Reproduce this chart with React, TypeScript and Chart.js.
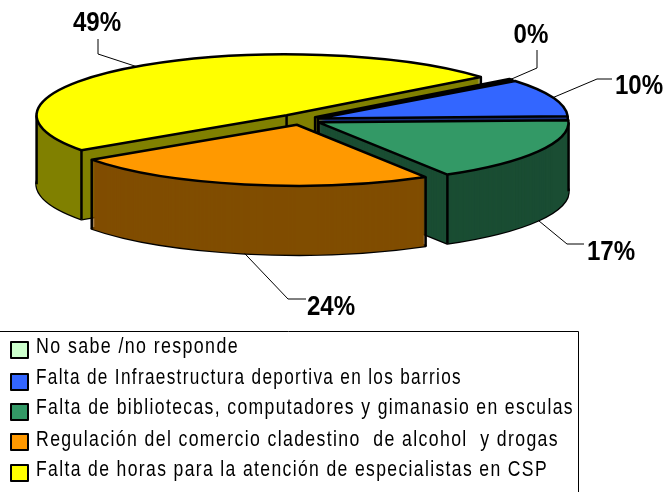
import React, { useEffect, useRef } from "react";
import { Chart, registerables } from "chart.js";

Chart.register(...registerables);

const categories = [
  "No sabe /no responde",
  "Falta de Infraestructura deportiva en los barrios",
  "Falta de bibliotecas, computadores y gimanasio en esculas",
  "Regulación del comercio cladestino  de alcohol  y drogas",
  "Falta de horas para la atención de especialistas en CSP",
];
const values = [0.3, 10, 17, 24, 49];
const topColors = ["#CCFFCC", "#3366FF", "#339966", "#FF9900", "#FFFF00"];
const wallColors = ["#668066", "#1A3380", "#1A4D33", "#804D00", "#808000"];
const explode = [18, 18, 20, 20, 24];

const SQUASH = 0.244;
const DEPTH = 69;
const LABEL_FONT = 'bold 28px "Liberation Sans"';
const LABEL_SCALE = 0.86;
const LEGEND_FONT = '22px "Liberation Sans"';
const LEGEND_SPACING = "1.7px";
const labelLayout = [
  { text: [531, 35], elbow: [[537, 50], [537, 68]], front: false },
  { text: [639, 86], elbow: [[612, 79], [597, 79]], front: false },
  { text: [611, 252], elbow: [[584, 244], [567, 244]], front: true },
  { text: [331, 307], elbow: [[306, 299], [288, 299]], front: true },
  { text: [97, 23], elbow: [[98, 39], [98, 54]], front: false },
];
const legendBox = { left: -2, top: 331, right: 578, bottom: 494 };
const legendText = [347, 378, 408, 440, 470];
const legendSwatch = [342, 374, 404, 434, 465];
const legendWidths = [203, 426, 538, 523, 512];

function scaledText(ctx: CanvasRenderingContext2D, text: string, x: number, y: number, sx: number) {
  ctx.save();
  ctx.translate(x, y);
  ctx.scale(sx, 1);
  ctx.fillText(text, 0, 0);
  ctx.restore();
}

const pie3d = {
  id: "pie3d",
  beforeDatasetsDraw(chart: any) {
    const ctx: CanvasRenderingContext2D = chart.ctx;
    const arcs = chart.getDatasetMeta(0).data;
    const shapes = arcs.map((arc: any, i: number) => {
      const { x, y, startAngle, endAngle, outerRadius } = arc.getProps(
        ["x", "y", "startAngle", "endAngle", "outerRadius"],
        true,
      );
      const mid = (startAngle + endAngle) / 2;
      const off = arc.options.offset;
      const ax = x + Math.cos(mid) * off;
      const ay = y + Math.sin(mid) * off * SQUASH;
      const rx = outerRadius;
      const ry = outerRadius * SQUASH;
      const path = (dy: number) => {
        const p = new Path2D();
        p.moveTo(ax, ay + dy);
        p.ellipse(ax, ay + dy, rx, ry, 0, startAngle, endAngle);
        p.closePath();
        return p;
      };
      const at = (t: number) => [ax + Math.cos(t) * rx, ay + Math.sin(t) * ry];
      const edges = [[ax, ay], at(startAngle), at(endAngle)];
      for (const t of [0, Math.PI * 2, Math.PI, Math.PI * 3]) {
        if (t > startAngle && t < endAngle) edges.push(at(t));
      }
      return { i, path, edges, mid, at };
    });

    ctx.save();
    ctx.lineJoin = "round";
    // back-to-front: yellow, then the others clockwise from the top
    [4, 0, 1, 2, 3].forEach((i) => {
      const s = shapes[i];
      const top = s.path(0);
      ctx.lineWidth = 2.5;
      ctx.strokeStyle = "#000";
      ctx.fillStyle = wallColors[i];
      ctx.stroke(s.path(DEPTH));
      for (let d = DEPTH; d >= 0; d -= 1) ctx.fill(s.path(d));
      s.edges.forEach(([ex, ey]: number[]) => {
        if (ctx.isPointInPath(top, ex, ey + 1.5)) return;
        ctx.beginPath();
        ctx.moveTo(ex, ey);
        ctx.lineTo(ex, ey + DEPTH);
        ctx.stroke();
      });
      ctx.fillStyle = topColors[i];
      ctx.fill(top);
      ctx.stroke(top);
    });

    // leader lines and percentages
    const total = values.reduce((a, b) => a + b, 0);
    ctx.lineWidth = 1;
    ctx.font = LABEL_FONT;
    ctx.textAlign = "center";
    ctx.textBaseline = "middle";
    shapes.forEach((s: any) => {
      const l = labelLayout[s.i];
      const [rimX, rimY] = s.at(s.mid);
      ctx.beginPath();
      ctx.moveTo(rimX, rimY + (l.front ? DEPTH : 0));
      [...l.elbow].reverse().forEach(([px, py]) => ctx.lineTo(px, py));
      ctx.strokeStyle = "#000";
      ctx.stroke();
      ctx.fillStyle = "#000";
      scaledText(ctx, `${Math.round((values[s.i] / total) * 100)}%`, l.text[0], l.text[1], LABEL_SCALE);
    });

    // legend
    ctx.lineWidth = 1;
    ctx.strokeRect(legendBox.left + 0.5, legendBox.top + 0.5, legendBox.right - legendBox.left, legendBox.bottom - legendBox.top);
    ctx.font = LEGEND_FONT;
    (ctx as any).letterSpacing = LEGEND_SPACING;
    ctx.textAlign = "left";
    categories.forEach((name, i) => {
      ctx.fillStyle = topColors[i];
      ctx.lineWidth = 2;
      ctx.fillRect(11, legendSwatch[i], 17, 16);
      ctx.strokeRect(11, legendSwatch[i], 17, 16);
      ctx.fillStyle = "#000";
      scaledText(ctx, name, 36, legendText[i], legendWidths[i] / ctx.measureText(name).width);
    });
    ctx.restore();
    return false;
  },
  beforeDatasetDraw() {
    return false;
  },
};

export default function App() {
  const ref = useRef<HTMLCanvasElement>(null);
  useEffect(() => {
    const chart = new Chart(ref.current!, {
      type: "pie",
      data: {
        labels: categories,
        datasets: [{ data: values, backgroundColor: topColors, offset: explode, borderWidth: 0 }],
      },
      options: {
        animation: false,
        responsive: false,
        rotation: 51,
        radius: 250,
        layout: { padding: { left: 0, top: 0, right: 64, bottom: 252 } },
        plugins: { legend: { display: false }, tooltip: { enabled: false } },
      },
      plugins: [pie3d],
    } as any);
    return () => chart.destroy();
  }, []);
  return (
    <canvas
      ref={ref}
      width={666}
      height={492}
      style={{ position: "fixed", left: 0, top: 0, display: "block" }}
    />
  );
}
